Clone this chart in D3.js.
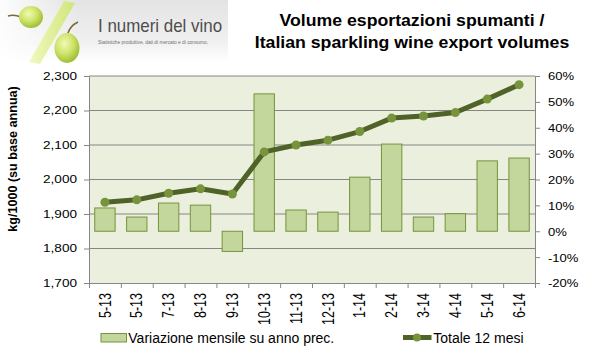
<!DOCTYPE html>
<html><head><meta charset="utf-8">
<script src="https://cdn.jsdelivr.net/npm/d3@7"></script>
<style>html,body{margin:0;padding:0;background:#fff;}svg{display:block;font-family:"Liberation Sans",Arial,sans-serif;}</style>
</head><body><svg id="c" width="600" height="356"></svg>
<script>
const labels = ["5-13","5-13","7-13","8-13","9-13","10-13","11-13","12-13","1-14","2-14","3-14","4-14","5-14","6-14"];
const variazione = [9.0,5.5,10.9,10.1,-7.8,53.1,8.2,7.4,20.9,33.7,5.5,6.8,27.2,28.3];
const totale = [1934,1941,1960,1973,1958,2080,2100,2114,2139,2178,2184,2194,2233,2275];
const leftTicks = [1700,1800,1900,2000,2100,2200,2300];
const rightTicks = [-20,-10,0,10,20,30,40,50,60];
const titleLines = ["Volume esportazioni spumanti /","Italian sparkling wine export volumes"];
const yTitle = "kg/1000 (su base annua)";
const legendLabels = ["Variazione mensile su anno prec.","Totale 12 mesi"];

const svg = d3.select("#c");
const L=89,R=535,T=76,B=283;
const idx = d3.range(labels.length);
const x = d3.scaleBand().domain(idx).range([L,R]).paddingInner(0.36).paddingOuter(0.18);
const xb = d3.scaleLinear().domain([0,labels.length]).range([L,R]);
const yL = d3.scaleLinear().domain([1700,2300]).range([B,T]);
const yR = d3.scaleLinear().domain([-20,60]).range([B,T]);
const axisCol="#868686";

// ---- logo
const defs = svg.append("defs");
const bg = defs.append("linearGradient").attr("id","bg").attr("x1",0).attr("y1",0).attr("x2",0).attr("y2",1);
bg.append("stop").attr("offset","0").attr("stop-color","#e3e3e3");
bg.append("stop").attr("offset","0.7").attr("stop-color","#f1f1f1");
bg.append("stop").attr("offset","1").attr("stop-color","#ffffff");
const bgh = defs.append("linearGradient").attr("id","bgh").attr("x1",0).attr("y1",0).attr("x2",1).attr("y2",0);
bgh.append("stop").attr("offset","0").attr("stop-color","#fff").attr("stop-opacity",0.9);
bgh.append("stop").attr("offset","0.35").attr("stop-color","#fff").attr("stop-opacity",0);
const gr = defs.append("radialGradient").attr("id","grape").attr("cx","0.4").attr("cy","0.35").attr("r","0.7");
gr.append("stop").attr("offset","0").attr("stop-color","#f1f9b8");
gr.append("stop").attr("offset","0.5").attr("stop-color","#cfe46a");
gr.append("stop").attr("offset","1").attr("stop-color","#98b82c");
const bar = defs.append("linearGradient").attr("id","barg").attr("x1",0).attr("y1",0).attr("x2",1).attr("y2",0);
bar.append("stop").attr("offset","0").attr("stop-color","#f2f9c0");
bar.append("stop").attr("offset","1").attr("stop-color","#cfe57a");

const logo = svg.append("g");
logo.append("rect").attr("x",0).attr("y",0).attr("width",228).attr("height",62).attr("fill","url(#bg)");
logo.append("rect").attr("x",0).attr("y",0).attr("width",228).attr("height",62).attr("fill","url(#bgh)");
logo.append("path").attr("d","M64,1 L75,3 L40,64 L29,62 Z").attr("fill","url(#barg)");
logo.append("path").attr("d","M8,16 Q14,14 21,17").attr("stroke","#7a6a3a").attr("stroke-width",1.6).attr("fill","none");
logo.append("ellipse").attr("cx",31).attr("cy",17).attr("rx",12).attr("ry",11).attr("fill","url(#grape)");
logo.append("path").attr("d","M68,33 Q70,26 78,22").attr("stroke","#7a6a3a").attr("stroke-width",1.6).attr("fill","none");
logo.append("ellipse").attr("cx",67).attr("cy",48).attr("rx",12.5).attr("ry",15).attr("fill","url(#grape)");
logo.append("text").attr("transform","translate(98,31.7) scale(0.91,1)").attr("font-size",18.6).attr("fill","#4e4e4e").text("I numeri del vino");
logo.append("text").attr("x",98).attr("y",43.5).attr("font-size",5).attr("fill","#707070")
  .attr("textLength",110).attr("lengthAdjust","spacingAndGlyphs").text("Statistiche produttive, dati di mercato e di consumo,");

// ---- title
svg.selectAll(".title").data(titleLines).join("text").attr("class","title")
  .attr("transform",(d,i)=>`translate(412,${[25.5,47.5][i]}) scale(1.12,1)`)
  .attr("text-anchor","middle").attr("font-size",15.8).attr("font-weight","bold").attr("fill","#000").text(d=>d);

// ---- plot background
svg.append("rect").attr("x",L).attr("y",T).attr("width",R-L).attr("height",B-T).attr("fill","#ebf0de");

// gridlines
svg.append("g").selectAll("line").data(leftTicks.slice(1)).join("line")
  .attr("x1",L).attr("x2",R).attr("y1",d=>yL(d)).attr("y2",d=>yL(d)).attr("stroke",axisCol).attr("stroke-width",1);

// bars
svg.append("g").selectAll("rect").data(variazione).join("rect")
  .attr("x",(d,i)=>x(i)).attr("width",x.bandwidth())
  .attr("y",d=>yR(Math.max(0,d))).attr("height",d=>Math.abs(yR(d)-yR(0)))
  .attr("fill","#c3d69b").attr("stroke","#77933c").attr("stroke-width",1);

// line
const line = d3.line().x((d,i)=>x(i)+x.bandwidth()/2).y(d=>yL(d));
svg.append("path").datum(totale).attr("d",line).attr("fill","none").attr("stroke","#4f6228").attr("stroke-width",5).attr("stroke-linejoin","round");
svg.append("g").selectAll("circle").data(totale).join("circle")
  .attr("cx",(d,i)=>x(i)+x.bandwidth()/2).attr("cy",d=>yL(d)).attr("r",4.5).attr("fill","#77933c");

// axes
function styleAxis(g){ g.select(".domain").attr("stroke",axisCol); g.selectAll(".tick line").attr("stroke",axisCol); }
const gl = svg.append("g").attr("transform",`translate(${L},0)`).call(d3.axisLeft(yL).tickValues(leftTicks).tickFormat(d3.format(",")).tickSize(5).tickSizeOuter(0)).call(styleAxis);
gl.selectAll(".tick text").attr("x",0).attr("dy",null).attr("dominant-baseline","central")
  .attr("transform","translate(-12,0) scale(1.33,1)").attr("font-size",10.2).attr("font-family","Liberation Sans, Arial, sans-serif").attr("fill","#000");
const gr2 = svg.append("g").attr("transform",`translate(${R},0)`).call(d3.axisRight(yR).tickValues(rightTicks).tickFormat(d=>d+"%").tickSize(5).tickSizeOuter(0)).call(styleAxis);
gr2.selectAll(".tick text").attr("x",0).attr("dy",null).attr("dominant-baseline","central")
  .attr("transform","translate(13,0) scale(1.28,1)").attr("font-size",10.2).attr("font-family","Liberation Sans, Arial, sans-serif").attr("fill","#000");
const gb = svg.append("g").attr("transform",`translate(0,${B})`).call(d3.axisBottom(xb).tickValues(d3.range(labels.length+1)).tickFormat("").tickSize(5).tickSizeOuter(0)).call(styleAxis);
const gx = svg.append("g").attr("transform",`translate(0,${B})`).call(d3.axisBottom(x).tickFormat(i=>labels[i]).tickSize(0));
gx.select(".domain").remove();
gx.selectAll(".tick text").attr("y",0).attr("dy",null).attr("text-anchor","end").attr("dominant-baseline","central")
  .attr("transform","translate(0,10) scale(1.28,1) rotate(-90)").attr("font-size",12.5).attr("font-family","Liberation Sans, Arial, sans-serif").attr("fill","#000");

// y title
svg.append("text").attr("transform","translate(13.3,159) rotate(-90)").attr("text-anchor","middle").attr("dominant-baseline","central")
  .attr("font-size",12.6).attr("font-weight","bold").text(yTitle);

// legend
const lg = svg.append("g");
lg.append("rect").attr("x",101).attr("y",333.5).attr("width",25.5).attr("height",8.5).attr("fill","#c3d69b").attr("stroke","#77933c");
lg.append("text").attr("x",128.3).attr("y",342.7).attr("font-size",14).text(legendLabels[0]);
lg.append("line").attr("x1",403).attr("x2",431.5).attr("y1",337.5).attr("y2",337.5).attr("stroke","#4f6228").attr("stroke-width",5);
lg.append("circle").attr("cx",417).attr("cy",337.5).attr("r",4).attr("fill","#77933c");
lg.append("text").attr("x",433.3).attr("y",342.7).attr("font-size",14).text(legendLabels[1]);
</script></body></html>
